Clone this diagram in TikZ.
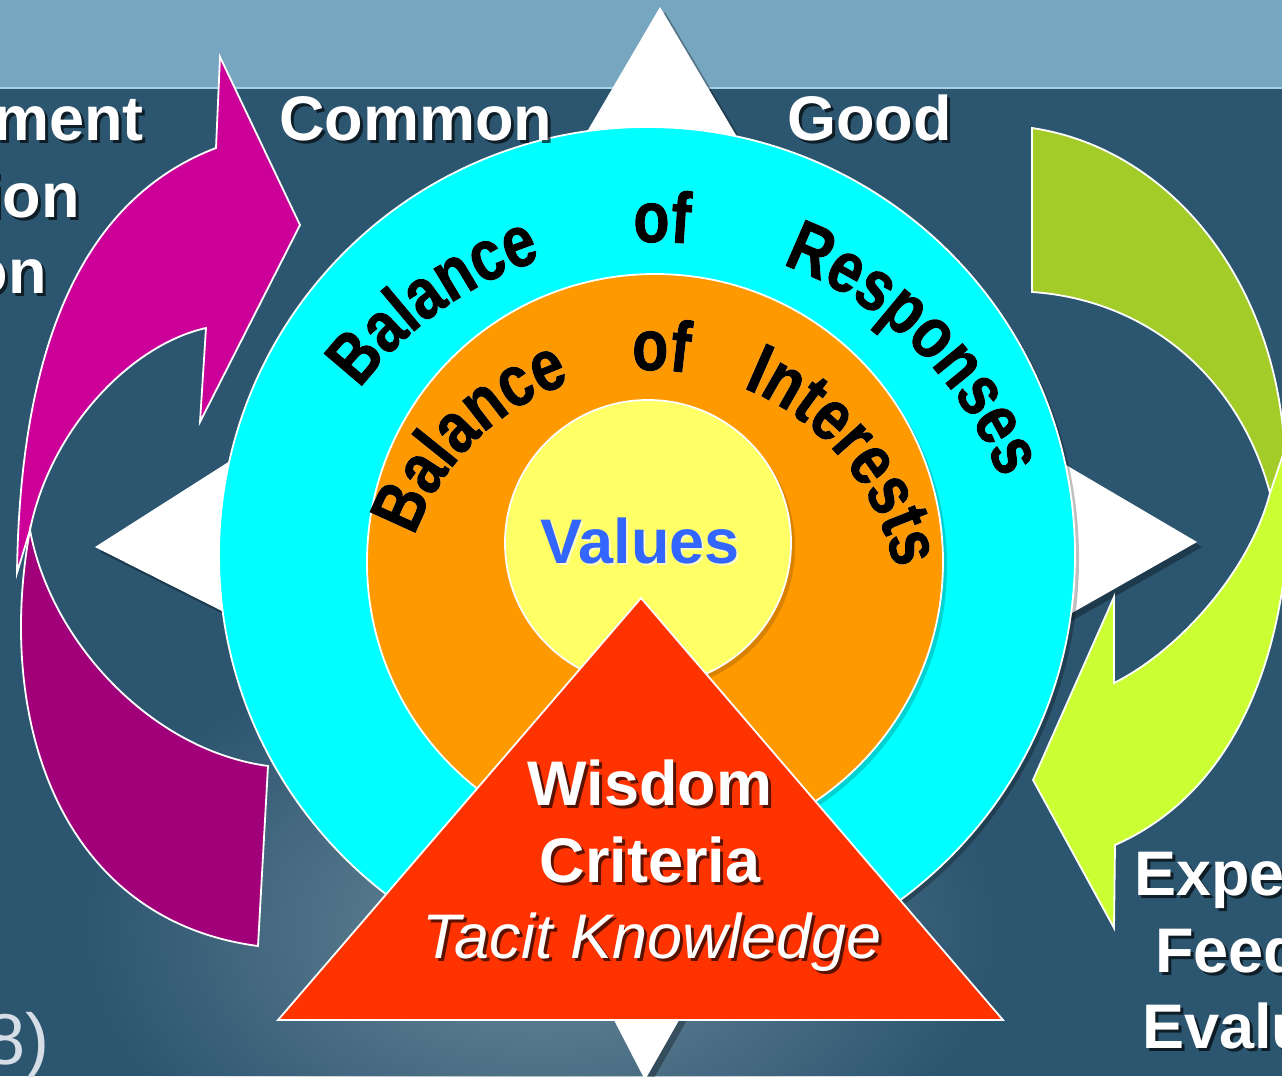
\documentclass[tikz,border=0pt]{standalone}
\usepackage{fontspec}
\setmainfont{Liberation Sans}
\newfontfamily\ringfam{Liberation Sans}[FakeStretch=0.82, FakeBold=1.2]
\usetikzlibrary{decorations.text,fadings,calc}

\definecolor{bgdark}{HTML}{2C5570}
\definecolor{bgtop}{HTML}{76A6C0}
\definecolor{bgline}{HTML}{A8D0E4}
\definecolor{bglight}{HTML}{6C8A9B}
\definecolor{cyanring}{HTML}{00FFFF}
\definecolor{orangering}{HTML}{FF9900}
\definecolor{yellowcore}{HTML}{FFFF66}
\definecolor{redtri}{HTML}{FF3300}
\definecolor{valblue}{HTML}{3366FF}
\definecolor{magbright}{HTML}{CC0099}
\definecolor{magdark}{HTML}{A2007A}
\definecolor{grnbright}{HTML}{CCFF33}
\definecolor{grndark}{HTML}{A3CC29}
\definecolor{ghost}{HTML}{D5DEE6}

\tikzfading[name=softblob, inner color=transparent!0, outer color=transparent!100]

\newcommand\ringfont{\ringfam\fontsize{72}{72}\selectfont\bfseries}
% #1 centre, #2 radius, #3 start angle, #4 end angle, #5 word, #6 colour
\newcommand\ringword[6]{%
  \path[decorate, decoration={text along path, text={|\ringfont|#5}, text align=center, text color=#6}]
    ($(#1)+(#3:#2)$) arc[start angle=#3, end angle=#4, radius=#2];}

\begin{document}
\begin{tikzpicture}[x=1pt,y=1pt,
  outl/.style={draw=white, line width=1.8pt, line join=miter},
  big/.style={inner sep=0pt, font=\fontsize{63}{63}\selectfont\bfseries},
  bigit/.style={inner sep=0pt, font=\fontsize{63}{63}\selectfont\itshape},
  wtxt/.style={big, text=white},
  shd/.style={text=black, text opacity=0.65},
]
\useasboundingbox (0,0) rectangle (1282,-1076);
\clip (0,0) rectangle (1282,-1076);

% background
\fill[bgdark] (0,0) rectangle (1282,-1076);
\fill[bglight, path fading=softblob] (540,-930) ellipse [x radius=460pt, y radius=300pt];
\fill[bgtop] (0,0) rectangle (1282,-88);
\draw[bgline, line width=2pt] (0,-88) -- (1282,-88);

% compass star
\fill[black, opacity=.3, shift={(5,-5)}] (660,-7) -- (860,-344) -- (1197,-542) -- (834,-748) -- (645,-1080) -- (466,-734) -- (95,-547) -- (492,-294) -- cycle;
\fill[white] (660,-7) -- (860,-344) -- (1197,-542) -- (834,-748) -- (645,-1080) -- (466,-734) -- (95,-547) -- (492,-294) -- cycle;

% magenta curved arrow
\draw[outl, fill=magbright] (216,-148) -- (220,-57) -- (300,-225) -- (200,-422) -- (206,-328)
  .. controls (130,-345) and (50,-430) .. (30,-530) -- (17,-573)
  .. controls (20,-350) and (80,-200) .. (216,-148) -- cycle;
\draw[outl, fill=magdark] (30,-530) .. controls (-5,-720) and (60,-920) .. (258,-946) -- (268,-766)
  .. controls (150,-750) and (50,-640) .. (30,-530) -- cycle;

% green curved arrow
\draw[outl, fill=grndark] (1032,-128) .. controls (1180,-150) and (1290,-300) .. (1285,-485) -- (1270,-493)
  .. controls (1240,-380) and (1150,-300) .. (1032,-292) -- cycle;
\draw[outl, fill=grnbright] (1270,-493) -- (1288,-440) .. controls (1300,-640) and (1240,-790) .. (1115,-845)
  -- (1114,-928) -- (1033,-780) -- (1114,-597) -- (1114,-683)
  .. controls (1180,-650) and (1250,-570) .. (1270,-493) -- cycle;

% rings
\fill[black, opacity=.25] (651,-559) circle[radius=428pt];
\draw[outl, fill=cyanring] (647,-555) circle[radius=428pt];
\fill[black, opacity=.18] (659,-566) circle[radius=288pt];
\draw[outl, fill=orangering] (655,-562) circle[radius=288pt];
\fill[black, opacity=.15] (652,-547) circle[radius=143pt];
\draw[outl, fill=yellowcore] (648,-543) circle[radius=143pt];

% ring texts
\coordinate (oc) at (655,-612);
\coordinate (ic) at (650,-620);
\begin{scope}[shift={(2.5,-2.5)}]
  \ringword{oc}{370pt}{165.4}{85.4}{Balance}{white}
  \ringword{oc}{370pt}{129}{49}{of}{white}
  \ringword{oc}{370pt}{85.5}{5.5}{Responses}{white}
  \ringword{ic}{250pt}{174.5}{94.5}{Balance}{white}
  \ringword{ic}{250pt}{127.7}{47.7}{of}{white}
  \ringword{ic}{250pt}{80}{0}{Interests}{white}
\end{scope}
\ringword{oc}{370pt}{165.4}{85.4}{Balance}{black}
\ringword{oc}{370pt}{129}{49}{of}{black}
\ringword{oc}{370pt}{85.5}{5.5}{Responses}{black}
\ringword{ic}{250pt}{174.5}{94.5}{Balance}{black}
\ringword{ic}{250pt}{127.7}{47.7}{of}{black}
\ringword{ic}{250pt}{80}{0}{Interests}{black}

% values
\node[big, text=white, text opacity=.6, anchor=base] (valuesS) at (642,-565) {Values};
\node[big, text=valblue, anchor=base] (values) at (640,-563) {Values};

% triangle
\draw[outl, fill=redtri] (641,-598) -- (1003,-1020) -- (278,-1020) -- cycle;
\node[big, shd, anchor=base] (wisdomS) at (653,-808) {Wisdom};
\node[wtxt, anchor=base] (wisdom) at (650,-805) {Wisdom};
\node[big, shd, anchor=base] (criteriaS) at (653,-885) {Criteria};
\node[wtxt, anchor=base] (criteria) at (650,-882) {Criteria};
\node[bigit, shd, anchor=base] (tacitS) at (655,-961) {Tacit Knowledge};
\node[bigit, text=white, anchor=base] (tacit) at (652,-958) {Tacit Knowledge};

% top labels
\node[big, shd, anchor=base west] (commonS) at (282,-143) {Common};
\node[wtxt, anchor=base west] (common) at (279,-140) {Common};
\node[big, shd, anchor=base west] (goodS) at (790,-143) {Good};
\node[wtxt, anchor=base west] (good) at (787,-140) {Good};

% left fragments
\node[big, shd, anchor=base east] (l1S) at (147,-143) {ment};
\node[wtxt, anchor=base east] (l1) at (144,-140) {ment};
\node[big, shd, anchor=base east] (l2S) at (83,-220) {ion};
\node[wtxt, anchor=base east] (l2) at (80,-217) {ion};
\node[big, shd, anchor=base east] (l3S) at (50,-296) {on};
\node[wtxt, anchor=base east] (l3) at (47,-293) {on};

% right fragments
\node[big, shd, anchor=base west] (r1S) at (1137,-898) {Expe};
\node[wtxt, anchor=base west] (r1) at (1134,-895) {Expe};
\node[big, shd, anchor=base west] (r2S) at (1158,-975) {Feed};
\node[wtxt, anchor=base west] (r2) at (1155,-972) {Feed};
\node[big, shd, anchor=base west] (r3S) at (1145,-1051) {Evalu};
\node[wtxt, anchor=base west] (r3) at (1142,-1048) {Evalu};

% bottom-left fragment
\node[inner sep=0pt, font=\fontsize{72}{72}\selectfont, text=ghost, anchor=base east] (cite) at (50,-1064) {8)};
\end{tikzpicture}
\end{document}
